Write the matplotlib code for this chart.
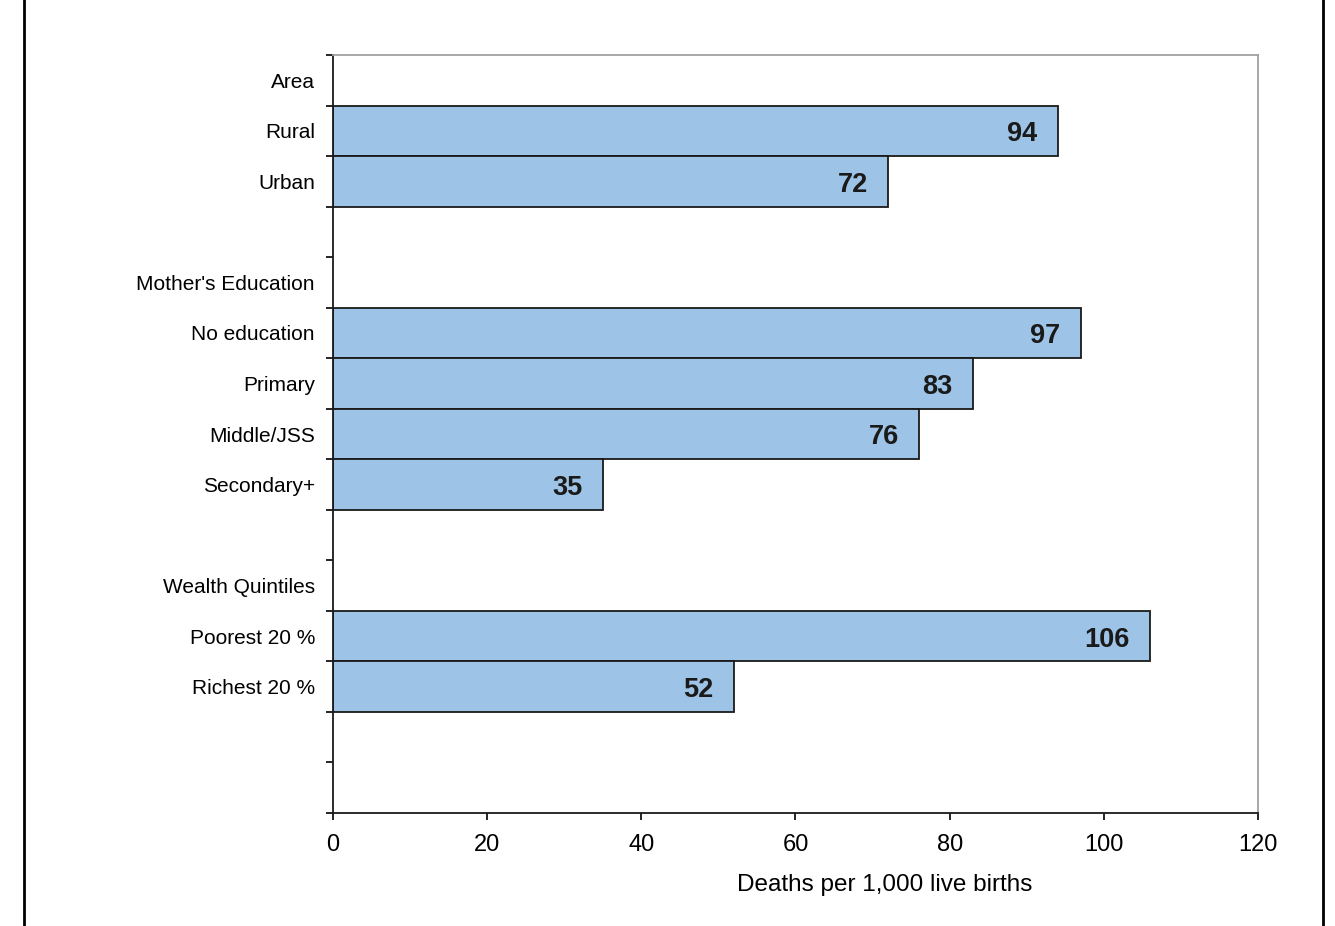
import matplotlib
matplotlib.use("Agg")
import matplotlib.pyplot as plt
import numpy as np
from matplotlib.lines import Line2D

plt.rcParams["font.family"] = ["Liberation Sans", "DejaVu Sans"]

# ── Data ──────────────────────────────────────────
labels = ["Area", "Rural", "Urban", "",
          "Mother's Education", "No education", "Primary", "Middle/JSS", "Secondary+", "",
          "Wealth Quintiles", "Poorest 20 %", "Richest 20 %", "", ""]
values = [None, 94, 72, None,
          None, 97, 83, 76, 35, None,
          None, 106, 52, None, None]
x_ticks = [0, 20, 40, 60, 80, 100, 120]
x_label = "Deaths per 1,000 live births"

# ── Plot ──────────────────────────────────────────
fig = plt.figure(figsize=(13.35, 9.26), dpi=100)
ax = fig.add_axes([0.2494, 0.122, 0.6929, 0.8186])

pos = np.arange(len(labels))
for i, v in enumerate(values):
    if v is None:
        continue
    ax.barh(i, v, height=1.0, color="#9DC3E6", edgecolor="#1a1a1a", linewidth=1.3)
    ax.annotate(str(v), (v, i), xytext=(-14.5, -2.5), textcoords="offset points",
                ha="right", va="center", fontsize=19.5, fontweight="bold", color="#1a1a1a")

ax.set_xlim(0, 120)
ax.set_ylim(len(labels) - 0.5, -0.5)
ax.set_xticks(x_ticks)
ax.set_xticklabels([str(t) for t in x_ticks], fontsize=17)
ax.set_yticks(np.arange(-0.5, len(labels), 1.0))
ax.set_yticklabels([])
ax.set_yticks(pos, minor=True)
ax.set_yticklabels(labels, minor=True, fontsize=15)
ax.tick_params(axis="y", which="minor", length=0, pad=13)
ax.tick_params(axis="y", which="major", length=5, width=1.2, direction="out")
ax.tick_params(axis="x", length=5, width=1.2, direction="out", pad=10)
ax.set_xlabel(x_label, fontsize=17.5)
ax.xaxis.set_label_coords(0.597, -0.081)

for s in ["left", "bottom"]:
    ax.spines[s].set_color("#1a1a1a")
    ax.spines[s].set_linewidth(1.3)
for s in ["top", "right"]:
    ax.spines[s].set_color("#a0a0a0")
    ax.spines[s].set_linewidth(1.3)

# page border lines
fig.add_artist(Line2D([24 / 1335, 24 / 1335], [0, 1], color="black", linewidth=2.0))
fig.add_artist(Line2D([1323 / 1335, 1323 / 1335], [0, 1], color="black", linewidth=2.0))

plt.savefig("out.png", dpi=100)
